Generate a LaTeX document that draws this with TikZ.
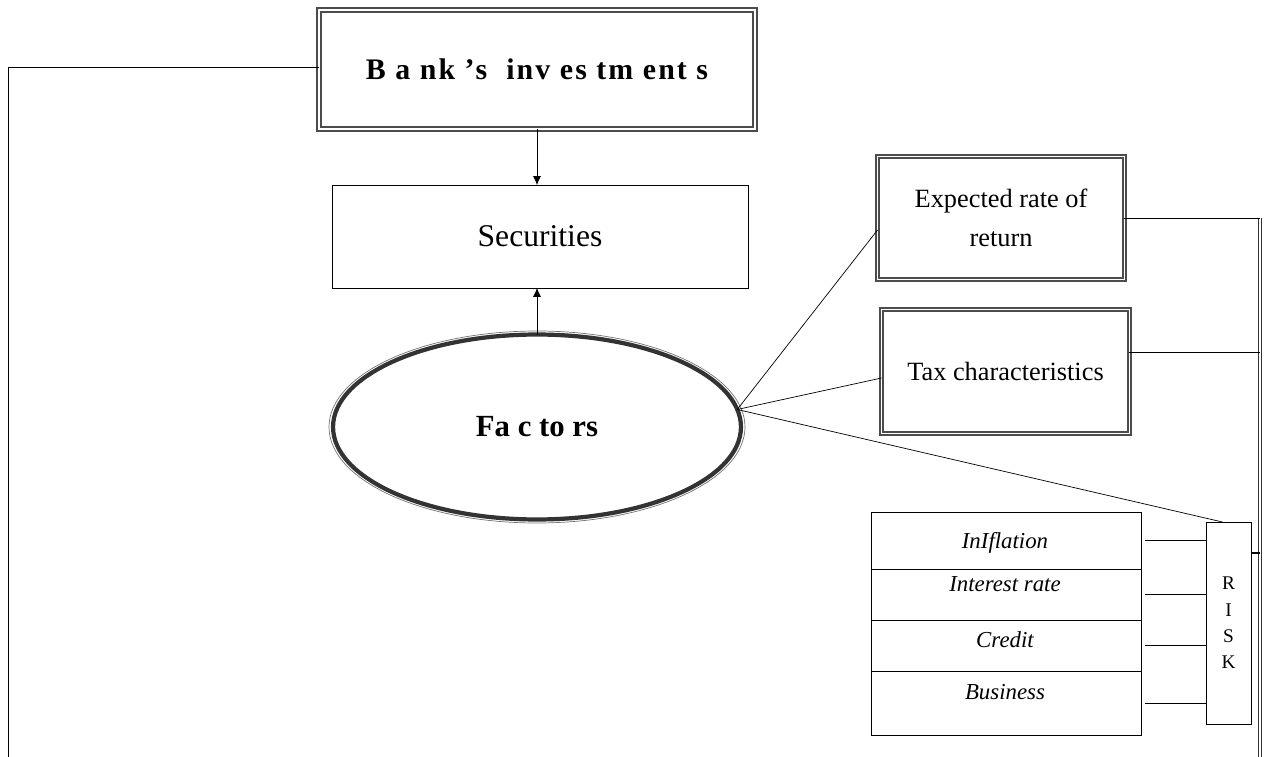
\documentclass[tikz,border=0pt]{standalone}
\usepackage{fontspec}
\setmainfont{Liberation Serif}
\usetikzlibrary{shapes.geometric,positioning,arrows.meta}

\begin{document}
\begin{tikzpicture}[x=0.02cm,y=-0.02cm,thin,every node/.style={outer sep=0pt},
 dbox/.style={draw=black!70,double=white,double distance=1.1pt,line width=0.9pt,inner sep=0pt},
 sbox/.style={draw,thin,inner sep=0pt},
 row/.style={draw,thin,inner sep=0pt,minimum width=5.4cm},
 rowtxt/.style={font=\fontsize{13}{15}\selectfont\itshape,inner sep=0pt},
 bus/.style={draw=black!80,double=white,double distance=0.9pt,line width=0.6pt},
 tip/.style={-{Latex[length=5pt,width=4.5pt]}}]

\useasboundingbox (0,0) rectangle (1269,757);

  \node[dbox,minimum width=8.72cm,minimum height=2.38cm,font=\fontsize{17}{20}\selectfont\bfseries\addfontfeatures{LetterSpace=7}] (bank) at (537,69.5) {B a nk ’s \ inv es tm ent s};
  \node[sbox,minimum width=8.32cm,minimum height=2.06cm,font=\fontsize{18}{21}\selectfont] (sec) at (540,236.5) {Securities};

  \node[ellipse,draw=black!80,line width=2.4pt,minimum width=8.16cm,minimum height=3.7cm,inner sep=0pt,font=\fontsize{17.5}{20}\selectfont\bfseries] (fac) at (537,427) {Fa c to rs};
  \draw[black!55,thin] (fac.center) ellipse (208 and 96);

\draw [tip] (bank.south) -- (bank.south |- sec.north);
\draw [tip] (fac.north) -- (fac.north |- sec.south);
\draw ([yshift=0.05cm]bank.west) -| (8,757) coordinate (lb);

  \node[dbox,minimum width=4.94cm,minimum height=2.46cm,align=center,font=\fontsize{15}{22}\selectfont] (exp) at (1001,218) {Expected rate of\\return};
  \node[dbox,minimum width=4.96cm,minimum height=2.48cm,font=\fontsize{15}{18}\selectfont] (tax) at (1005.5,371.5) {Tax characteristics};

  \node[sbox,minimum width=0.9cm,minimum height=4.04cm,align=center,font=\fontsize{11}{15}\selectfont] (risk) at (1228.5,623) {R\\I\\S\\K};

  \node[row,minimum height=1.14cm] (row1) at (1006,540.5) {};
  \node[row,minimum height=1.02cm,below=0pt of row1] (row2) {};
  \node[row,minimum height=1.02cm,below=0pt of row2] (row3) {};
  \node[row,minimum height=1.28cm,below=0pt of row3] (row4) {};
  \node[rowtxt] (tinf) at (1005,543) {InIflation};
  \node[rowtxt] (tint) at (1005,584) {Interest rate};
  \node[rowtxt] (tcre) at (1005,640) {Credit};
  \node[rowtxt] (tbus) at (1005,692) {Business};

\draw (fac.5) -- ([yshift=-0.24cm]exp.west);
\draw (fac.5) -- ([yshift=-0.13cm]tax.west);
\draw (fac.5) -- ([xshift=-0.12cm]risk.north);

\coordinate (bustop) at (1260,218);
\draw[bus] (bustop) -- (1260,757) coordinate (busend);
\draw (exp.east) -- (exp.east -| bustop);
\draw ([yshift=0.39cm]tax.east) -- ([yshift=0.39cm]tax.east -| bustop);
\draw[thick] ([yshift=1.4cm]risk.east) -- ([yshift=1.4cm]risk.east -| bustop);

\foreach \r in {row1,row2,row3,row4}
  \draw ([xshift=0.08cm]\r.east) -- (\r.east -| risk.west);

\end{tikzpicture}
\end{document}
